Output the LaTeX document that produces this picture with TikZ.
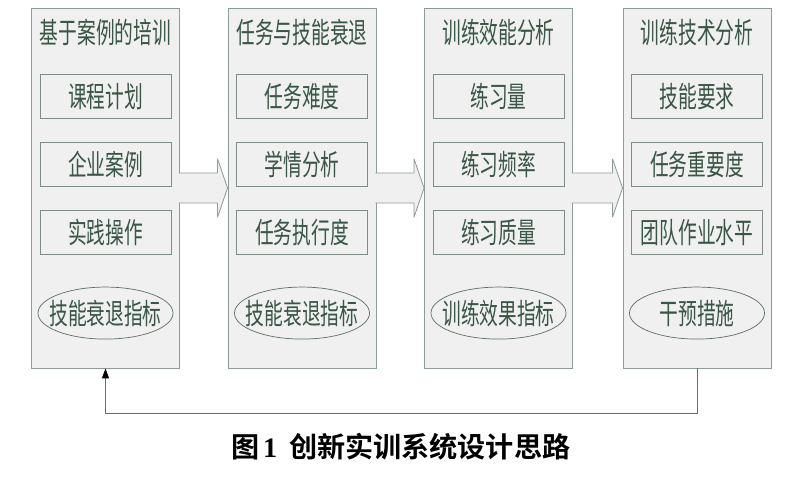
\documentclass[tikz,border=0pt]{standalone}
\usepackage{fontspec}
\setmainfont{Liberation Serif}
\newfontfamily\boxfont[FakeStretch=0.65]{Noto Sans CJK SC}
\newfontfamily\capfont{Noto Sans CJK SC Bold}
\usetikzlibrary{shapes.geometric, positioning, arrows.meta, calc}
\definecolor{panelfill}{HTML}{F0F0F0}
\definecolor{panelline}{HTML}{8E9C96}
\definecolor{itemline}{HTML}{7E8C86}
\definecolor{ovalline}{HTML}{5E6E66}
\definecolor{textgreen}{HTML}{3A5646}
\definecolor{loopline}{HTML}{6C6C6C}
\tikzset{
  panel/.style={rectangle, draw=panelline, fill=panelfill, line width=0.6pt, minimum width=37mm, minimum height=90mm, inner sep=0pt},
  ptitle/.style={inner sep=0pt, text=textgreen, font=\boxfont\fontsize{20.5pt}{22pt}\selectfont},
  item/.style={rectangle, draw=itemline, fill=panelfill, line width=0.6pt, minimum width=32.75mm, minimum height=11mm, inner sep=0pt, text=textgreen, font=\boxfont\fontsize{20.5pt}{22pt}\selectfont},
  indicator/.style={ellipse, draw=ovalline, line width=0.5pt, minimum width=33.75mm, minimum height=13mm, inner xsep=-3mm, inner ysep=0pt, text=textgreen, font=\boxfont\fontsize{20.5pt}{22pt}\selectfont},
  blockarrow/.style={draw=panelline, fill=panelfill, line width=0.6pt, line join=round},
  feedback/.style={draw=loopline, line width=0.6pt, -{Triangle[width=5pt,length=7pt,color=black]}}
}
\begin{document}
\begin{tikzpicture}[x=0.025cm, y=-0.025cm, node distance=5.75mm]
    \useasboundingbox (0,0) rectangle (800,479);

    % --- Paneles ---
    \node (p1) [panel] at (105.5,188) {};
    \node (p2) [panel] at (302,188) {};
    \node (p3) [panel] at (498.5,188) {};
    \node (p4) [panel] at (697,188) {};

    % --- Panel 1 ---
    \node (t1) [ptitle] at ([yshift=-6.25mm]p1.north) {基于案例的培训};
    \node (a1) [item] at ([yshift=-22.25mm]p1.north) {课程计划};
    \node (b1) [item, below=of a1] {企业案例};
    \node (c1) [item, below=of b1] {实践操作};
    \node (e1) [indicator, below=8mm of c1] {技能衰退指标};

    % --- Panel 2 ---
    \node (t2) [ptitle] at ([yshift=-6.25mm]p2.north) {任务与技能衰退};
    \node (a2) [item] at ([yshift=-22.25mm]p2.north) {任务难度};
    \node (b2) [item, below=of a2] {学情分析};
    \node (c2) [item, below=of b2] {任务执行度};
    \node (e2) [indicator, below=8mm of c2] {技能衰退指标};

    % --- Panel 3 ---
    \node (t3) [ptitle] at ([yshift=-6.25mm]p3.north) {训练效能分析};
    \node (a3) [item] at ([yshift=-22.25mm]p3.north) {练习量};
    \node (b3) [item, below=of a3] {练习频率};
    \node (c3) [item, below=of b3] {练习质量};
    \node (e3) [indicator, below=8mm of c3] {训练效果指标};

    % --- Panel 4 ---
    \node (t4) [ptitle] at ([yshift=-6.25mm]p4.north) {训练技术分析};
    \node (a4) [item] at ([yshift=-22.25mm]p4.north) {技能要求};
    \node (b4) [item, below=of a4] {任务重要度};
    \node (c4) [item, below=of b4] {团队作业水平};
    \node (e4) [indicator, below=8mm of c4] {干预措施};

    % --- Flechas de bloque entre paneles ---
    \draw [blockarrow] ($(p1.east)+(-1,-15)$) -- ($(p2.west)+(-10,-15)$) -- ($(p2.west)+(-10,-29)$) -- (p2.west) -- ($(p2.west)+(-10,29)$) -- ($(p2.west)+(-10,15)$) -- ($(p1.east)+(-1,15)$);
    \draw [blockarrow] ($(p2.east)+(-1,-15)$) -- ($(p3.west)+(-10,-15)$) -- ($(p3.west)+(-10,-29)$) -- (p3.west) -- ($(p3.west)+(-10,29)$) -- ($(p3.west)+(-10,15)$) -- ($(p2.east)+(-1,15)$);
    \draw [blockarrow] ($(p3.east)+(-1,-15)$) -- ($(p4.west)+(-10,-15)$) -- ($(p4.west)+(-10,-29)$) -- (p4.west) -- ($(p4.west)+(-10,29)$) -- ($(p4.west)+(-10,15)$) -- ($(p3.east)+(-1,15)$);

    % --- Retorno ---
    \draw [feedback] (p4.south) -- ++(0,45) -| (p1.south);

    % --- Título de la figura ---
    \node (caption) at (401,447) {\fontsize{20pt}{22pt}\selectfont{\capfont 图}\hspace{0.8mm}\textbf{1}\hspace{3mm}{\capfont 创新实训系统设计思路}};
\end{tikzpicture}
\end{document}
